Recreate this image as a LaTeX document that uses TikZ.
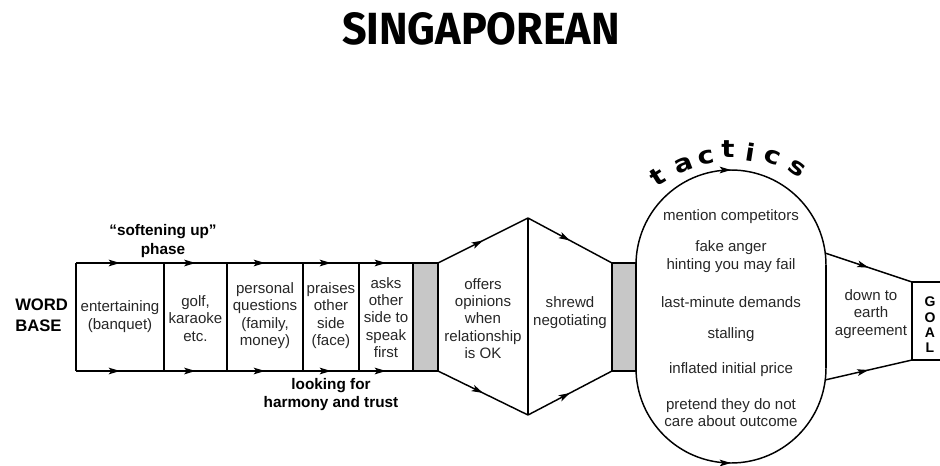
\documentclass[tikz,border=0pt]{standalone}
\usepackage{fontspec}
\setmainfont{Liberation Sans}
\newfontfamily\titlefont{Fira Sans}
\newfontfamily\tacfont{DejaVu Sans}
\usetikzlibrary{arrows.meta,decorations.markings}
\tikzset{
  ln/.style={line width=1.1pt, line join=miter},
  flow/.style={ln, postaction={decorate},
    decoration={markings, mark=at position 0.5 with {\arrow{Stealth[length=8.5pt,width=5pt,inset=2pt]}}}},
  grayfill/.style={ln, fill=black!22},
  txt/.style={font=\fontsize{11.3}{13}\selectfont, align=center, inner sep=0pt, text=black!85},
  lbl/.style={font=\bfseries\fontsize{11.5}{13.8}\selectfont, align=center, inner sep=0pt},
  tac/.style={font=\tacfont\bfseries\fontsize{18}{20}\selectfont, inner sep=0pt},
}
\begin{document}
\begin{tikzpicture}[x=0.75pt,y=-0.75pt]
\useasboundingbox (0,0) rectangle (940,465);

% title
\node[inner sep=0pt] (title) at (481,29) {\resizebox{208.5pt}{24pt}{\titlefont\bfseries SINGAPOREAN}};

% band of cells
\foreach \a/\b in {76/164,164/227,227/303,303/359,359/413}{
  \draw[flow] (\a,263) -- (\b,263);
  \draw[flow] (\a,371) -- (\b,371);
}
\foreach \x in {76,164,227,303,359} \draw[ln] (\x,263) -- (\x,371);
\draw[grayfill] (413,263) rectangle (438,371);

% hexagon
\draw[flow] (438,263) -- (528,218);
\draw[flow] (528,218) -- (612,263);
\draw[flow] (438,371) -- (528,415);
\draw[flow] (528,415) -- (612,371);
\draw[ln] (528,218) -- (528,415);
\draw[grayfill] (612,263) rectangle (636,371);

% oval
\draw[flow] (636,265) arc[start angle=-180,end angle=0,radius=95];
\draw[flow] (636,368) arc[start angle=180,end angle=0,radius=95];
\draw[ln] (636,265) -- (636,368);
\draw[ln] (826,265) -- (826,368);

% trapezoid and goal
\draw[flow] (825,253) -- (912,282);
\draw[flow] (825,380) -- (912,360);
\draw[ln] (945,282) -- (912,282) -- (912,360) -- (945,360);

% labels
\node[lbl, font=\bfseries\fontsize{12.5}{15.5}\selectfont, anchor=west, align=left] (wb) at (15,315.5) {WORD\\BASE};
\node[lbl] (soft) at (163,241) {“softening up”\\phase};
\node[lbl] (look) at (331,394.5) {looking for\\harmony and trust};

% cell texts
\node[txt] (c1) at (120,316.5) {entertaining\\(banquet)};
\node[txt] (c2) at (195.5,318.5) {golf,\\karaoke\\etc.};
\node[txt] (c3) at (265,315.5) {personal\\questions\\(family,\\money)};
\node[txt] (c4) at (331,315.5) {praises\\other\\side\\(face)};
\node[txt] (c5) at (386,317.5) {asks\\other\\side to\\speak\\first};
\node[txt] (c6) at (483,318.5) {offers\\opinions\\when\\relationship\\is OK};
\node[txt] (c7) at (570,312.5) {shrewd\\negotiating};
\node[txt] (c8) at (871,314) {down to\\earth\\agreement};

% tactics inside oval
\node[txt] (t1) at (731,217) {mention competitors};
\node[txt] (t2) at (731,256.5) {fake anger\\hinting you may fail};
\node[txt] (t3) at (731,302) {last-minute demands};
\node[txt] (t4) at (731,335) {stalling};
\node[txt] (t5) at (731,370) {inflated initial price};
\node[txt] (t6) at (731,412.5) {pretend they do not\\care about outcome};

% tactics arc label
\foreach \l/\px/\py/\r [count=\i] in {t/658/177/32,a/684/165/21,c/706/158/11,t/728/149/0,i/751/152/-9,c/772/157/-20,s/797/168/-33}
  \node[tac, rotate=\r] (tac\i) at (\px,\py) {\scalebox{1.15}[1]{\l}};

% goal
\node[lbl, font=\bfseries\fontsize{10.5}{11.5}\selectfont] (goal) at (930,325) {G\\O\\A\\L};
\end{tikzpicture}
\end{document}
